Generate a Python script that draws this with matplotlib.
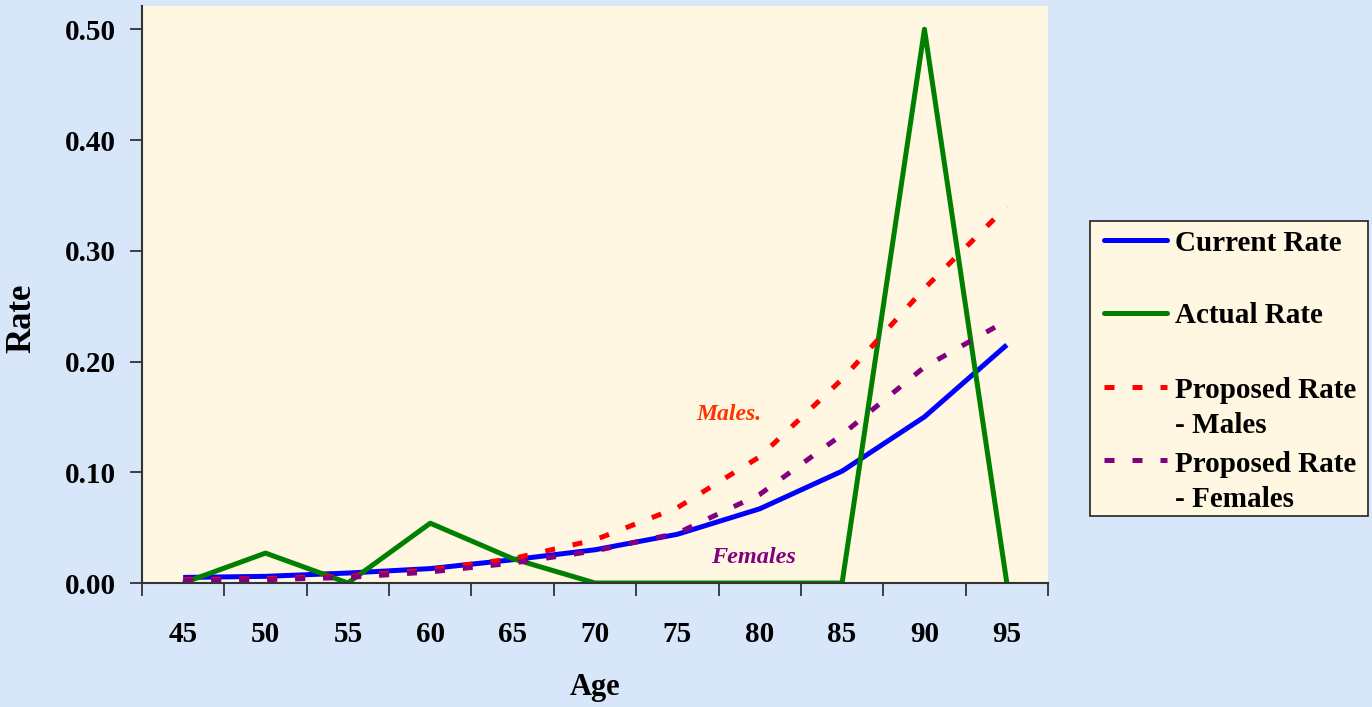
import matplotlib
matplotlib.use("Agg")
import matplotlib.pyplot as plt
from matplotlib.lines import Line2D
from matplotlib.patches import Rectangle
import numpy as np

# rates by age band
ages = [45, 50, 55, 60, 65, 70, 75, 80, 85, 90, 95]
current_rate = [0.005, 0.006, 0.009, 0.013, 0.021, 0.030, 0.044, 0.067, 0.101, 0.150, 0.215]
actual_rate = [0.0, 0.027, 0.0, 0.054, 0.022, 0.0, 0.0, 0.0, 0.0, 0.50, 0.0]
proposed_males = [0.003, 0.004, 0.006, 0.012, 0.022, 0.039, 0.068, 0.114, 0.184, 0.266, 0.340]
proposed_females = [0.002, 0.003, 0.005, 0.010, 0.018, 0.029, 0.045, 0.080, 0.134, 0.195, 0.237]
y_ticks = [0.0, 0.1, 0.2, 0.3, 0.4, 0.5]

W, H = 1372, 707
BG = "#D7E7F9"
PLOT_BG = "#FFF7E1"
FONT = "Liberation Serif"

plt.rcParams["font.family"] = FONT
plt.rcParams["font.weight"] = "bold"

fig = plt.figure(figsize=(W / 100, H / 100), dpi=100, facecolor=BG)


def fx(x):
    return x / W


def fy(y):
    return 1 - y / H


ax = fig.add_axes([fx(142), fy(583), fx(1048) - fx(142), fy(6) - fy(583)])
ax.set_facecolor(PLOT_BG)

x = np.arange(len(ages))
lw = 3.6
dash = (2, 3.6)
ax.plot(x, current_rate, color="#0000FF", lw=lw, solid_capstyle="butt")
ax.plot(x, actual_rate, color="#008000", lw=lw, solid_capstyle="butt")
ax.plot(x, proposed_males, color="#FF0000", lw=lw, dashes=dash, dash_capstyle="butt")
ax.plot(x, proposed_females, color="#800080", lw=lw, dashes=dash, dash_capstyle="butt")

ax.set_xlim(-0.5, len(ages) - 0.5)
ax.set_ylim(0, 0.521)

# category axis: labels at centres, tick marks between categories
ax.set_xticks(x)
ax.set_xticklabels([str(a) for a in ages], fontsize=21, fontweight="bold")
ax.set_xticks(np.arange(-0.5, len(ages)), minor=True)
ax.tick_params(axis="x", which="major", length=0, pad=27)
ax.tick_params(axis="x", which="minor", length=9, width=1.2, direction="out", color="#222222")

ax.set_yticks(y_ticks)
ax.set_yticklabels([f"{v:.2f}" for v in y_ticks], fontsize=21, fontweight="bold")
ax.tick_params(axis="y", length=9, width=1.2, pad=10, color="#222222")

for side in ["top", "right"]:
    ax.spines[side].set_visible(False)
for side in ["left", "bottom"]:
    ax.spines[side].set_color("#333333")
    ax.spines[side].set_linewidth(1.5)

fig.text(fx(595), fy(695), "Age", fontsize=22, fontweight="bold", ha="center", va="baseline")
fig.text(fx(22), fy(318), "Rate", fontsize=25, fontweight="bold", rotation=90,
         ha="center", va="center")

ax.text(6.63, 0.152, "Males.", color="#FF3300", fontsize=17, fontweight="bold",
        fontstyle="italic", ha="center", va="center")
ax.text(6.93, 0.0226, "Females", color="#800080", fontsize=17.5, fontweight="bold",
        fontstyle="italic", ha="center", va="center")

# legend box drawn by hand so handles sit on the first line of each label
fig.add_artist(Rectangle((fx(1090), fy(516)), fx(1368) - fx(1090), fy(221) - fy(516),
                         transform=fig.transFigure, facecolor=PLOT_BG,
                         edgecolor="#222222", lw=1.2))
entries = [
    (["Current Rate"], "#0000FF", None, 240, [251]),
    (["Actual Rate"], "#008000", None, 313, [323]),
    (["Proposed Rate", "- Males"], "#FF0000", dash, 387, [398, 433]),
    (["Proposed Rate", "- Females"], "#800080", dash, 460, [472, 507]),
]
for lines, color, dsh, ypos, baselines in entries:
    handle = Line2D([fx(1104), fx(1167)], [fy(ypos), fy(ypos)], transform=fig.transFigure,
                    color=color, lw=lw, solid_capstyle="round", dash_capstyle="butt")
    if dsh:
        handle.set_dashes(dsh)
    fig.add_artist(handle)
    for txt, base in zip(lines, baselines):
        fig.text(fx(1175), fy(base), txt, fontsize=21, fontweight="bold",
                 ha="left", va="baseline")

fig.savefig("out.png", dpi=100, facecolor=BG)
